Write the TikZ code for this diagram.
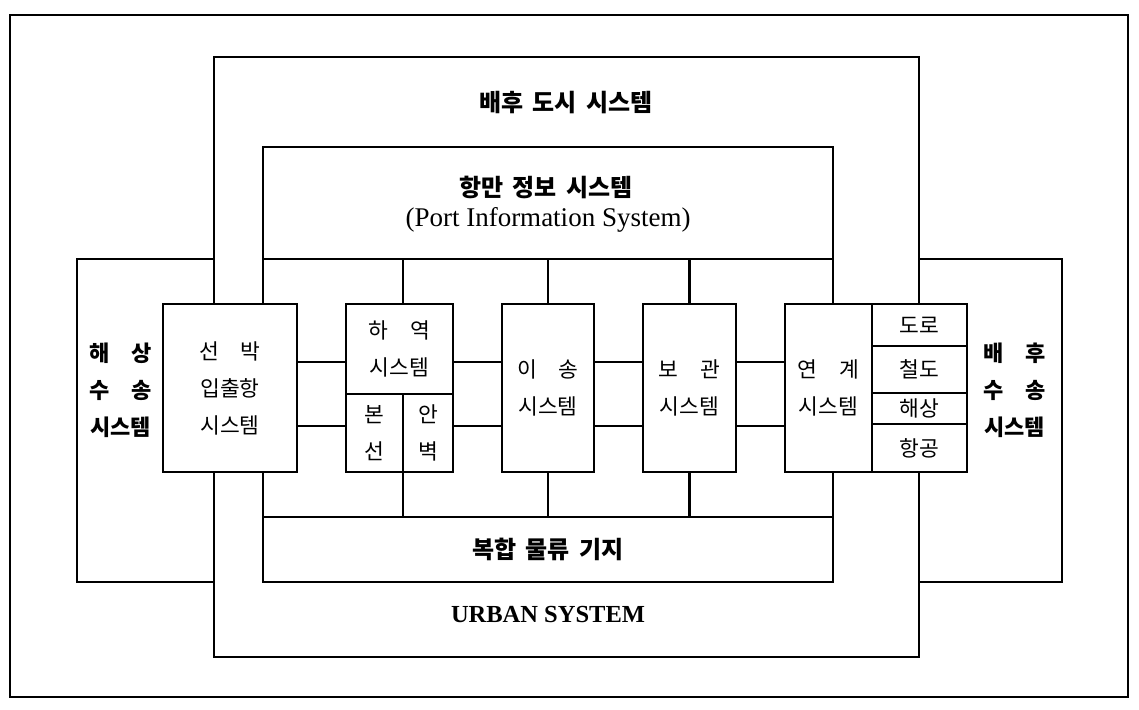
\documentclass[tikz,border=0pt]{standalone}
\usepackage{fontspec}
\setmainfont{Liberation Serif}
\newfontfamily\kr{Noto Sans CJK KR}
\usetikzlibrary{positioning}

\begin{document}
\begin{tikzpicture}[x=1pt, y=-1pt,
    frame/.style={line width=2pt},
    sysbox/.style={draw, line width=2.7pt, inner sep=0pt, outer sep=0pt},
    unit/.style={sysbox, fill=white, align=center, font=\kr\fontsize{21.5}{37}\selectfont},
    mode/.style={sysbox, fill=white, minimum width=95, font=\kr\fontsize{21.5}{24}\selectfont},
    heading/.style={font=\kr\bfseries\fontsize{24}{28}\selectfont},
    side/.style={align=center, font=\kr\bfseries\fontsize{22}{37}\selectfont},
    wire/.style={line width=2.3pt}]

    \useasboundingbox (0,0) rectangle (1139,709);
    \draw[frame] (10,15) rectangle (1128,697);

    % outer systems
    \node[sysbox, minimum width=137, minimum height=323] (sea) at (145.5,420.5) {};
    \node[sysbox, minimum width=143, minimum height=323] (land) at (990.5,420.5) {};
    \node[sysbox, minimum width=705, minimum height=600] (urban) at (566.5,357) {};
    \node[heading] (urbantitle) at (566,103) {배후\hspace{.4em}도시\hspace{.4em}시스템};
    \node[font=\bfseries\fontsize{24.5}{29}\selectfont] (urbanname) at (548,614) {URBAN SYSTEM};
    \node[side] (sealabel) at (120.5,390) {해\hspace{1em}상\\수\hspace{1em}송\\시스템};
    \node[side] (landlabel) at (1014.5,390) {배\hspace{1em}후\\수\hspace{1em}송\\시스템};

    % port information and logistics hub
    \node[sysbox, minimum width=570, minimum height=112] (port) at (548,203) {};
    \node[heading] (porttitle) at (546,187) {항만\hspace{.4em}정보\hspace{.4em}시스템};
    \node[font=\fontsize{27}{32}\selectfont] (portname) at (548,220) {(Port Information System)};
    \node[sysbox, minimum width=570, minimum height=65, heading] (hub) at (548,549.5) {복합\hspace{.4em}물류\hspace{.4em}기지};
    \draw[sysbox] (port.south west) -- (hub.north west)
                  (port.south east) -- (hub.north east);

    % subsystems
    \node[unit, minimum width=134, minimum height=168] (ship) at (230,388) {선\hspace{1em}박\\입출항\\시스템};
    \node[unit, minimum width=107, minimum height=90] (cargo) at (399.5,349) {하\hspace{1em}역\\시스템};
    \node[unit, minimum width=57, minimum height=78, below=0pt of cargo.south west, anchor=north west] (berth) {본\\선};
    \node[unit, minimum width=50, minimum height=78, right=0pt of berth] (quay) {안\\벽};
    \node[unit, minimum width=92, minimum height=168] (transfer) at (548,388) {이\hspace{1em}송\\시스템};
    \node[unit, minimum width=93, minimum height=168] (storage) at (689.5,388) {보\hspace{1em}관\\시스템};
    \node[unit, minimum width=87, minimum height=168] (link) at (828.5,388) {연\hspace{1em}계\\시스템};
    \node[mode, minimum height=42, anchor=north west] (road) at (link.north east) {도로};
    \node[mode, minimum height=47, below=0pt of road] (rail) {철도};
    \node[mode, minimum height=31, below=0pt of rail] (shipping) {해상};
    \node[mode, minimum height=48, below=0pt of shipping] (air) {항공};

    % connectors
    \coordinate (upper) at (0,362);
    \coordinate (lower) at (0,426);
    \foreach \a/\b in {ship/cargo, cargo/transfer, transfer/storage, storage/link}
        \draw[wire] (\a.east |- upper) -- (\b.west |- upper)
                    (\a.east |- lower) -- (\b.west |- lower);
    \draw[wire] (berth.east |- cargo.north) -- (berth.east |- port.south)
                (berth.south east) -- (berth.south east |- hub.north);
    \foreach \n in {transfer, storage}
        \draw[wire] (\n.north) -- (\n.north |- port.south)
                    (\n.south) -- (\n.south |- hub.north);
\end{tikzpicture}
\end{document}
